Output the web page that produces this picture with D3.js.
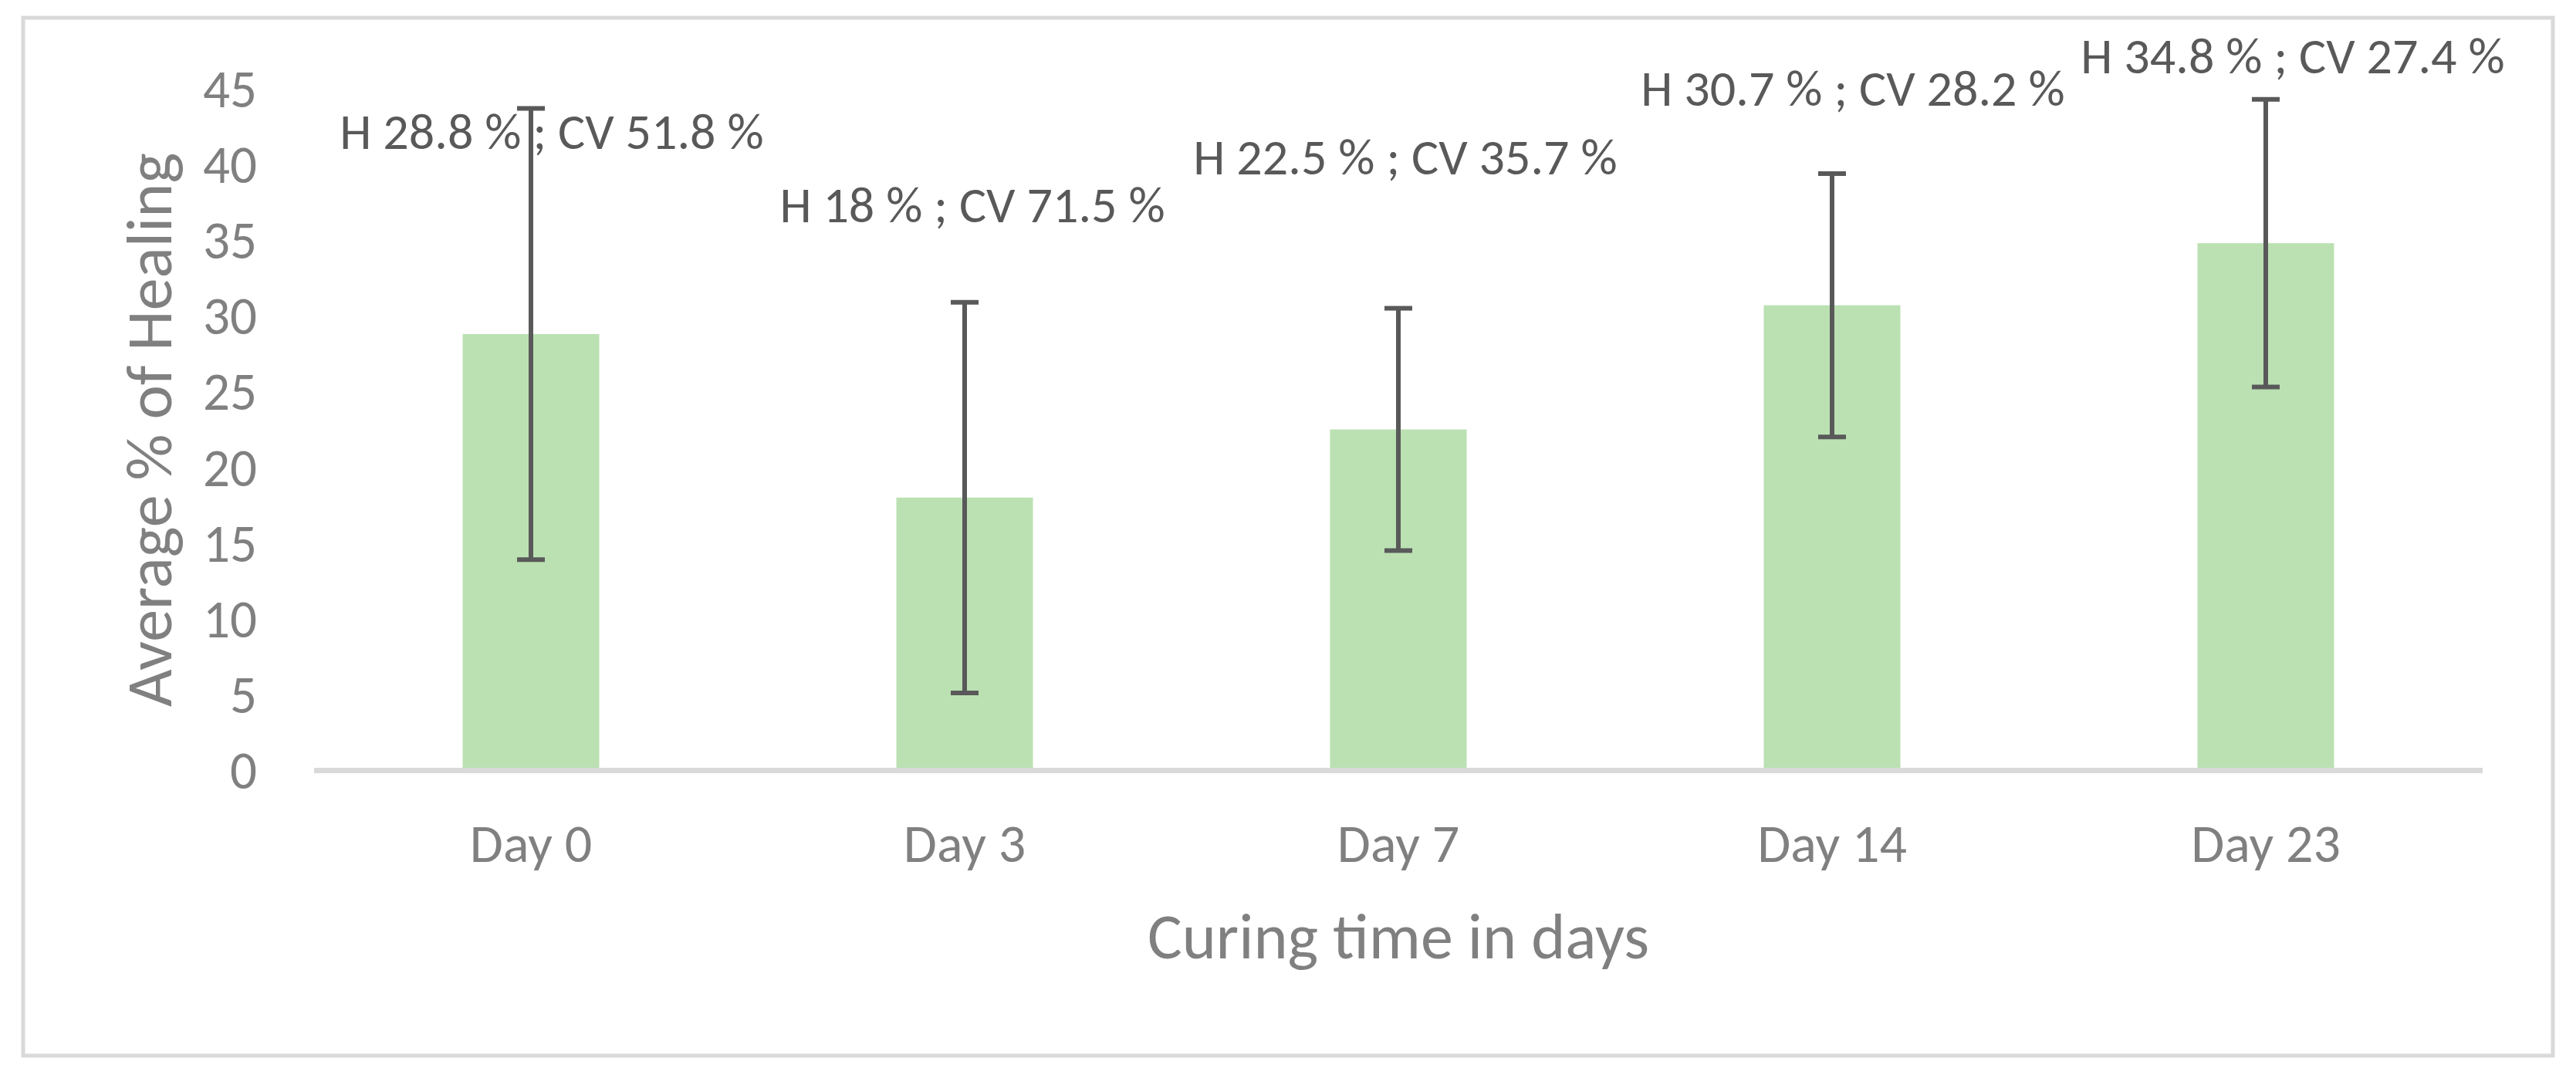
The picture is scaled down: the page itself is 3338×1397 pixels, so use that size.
<!DOCTYPE html>
<html>
<head>
<meta charset="utf-8">
<script src="https://cdn.jsdelivr.net/npm/d3@7"></script>
<style>
  body { margin: 0; background: #fff; }
  svg text { font-family: Carlito, Calibri, "Liberation Sans Narrow", "DejaVu Sans Condensed", sans-serif; }
</style>
</head>
<body>
<svg id="chart"></svg>
<script>
// data
const days = ["Day 0", "Day 3", "Day 7", "Day 14", "Day 23"];
const healing = [28.8, 18, 22.5, 30.7, 34.8];
const cv = [51.8, 71.5, 35.7, 28.2, 27.4];
const sd = [14.9, 12.9, 8.0, 8.7, 9.5];
const yTicks = [0, 5, 10, 15, 20, 25, 30, 35, 40, 45];

// where the data labels were dragged to (value on y axis, px offset from bar centre)
const labelY = [41.0, 36.2, 39.35, 43.9, 46.0];
const labelDx = [27, 10, 9, 27, 35];

const width = 3338;
const height = 1397;
const margin = { top: 115, right: 121, bottom: 399, left: 407 };

const svg = d3.select("#chart")
    .attr("width", width)
    .attr("height", height);

// chart frame
svg.append("rect")
    .attr("x", 30)
    .attr("y", 23)
    .attr("width", 3278)
    .attr("height", 1345)
    .attr("fill", "#fff")
    .attr("stroke", "#d9d9d9")
    .attr("stroke-width", 5);

const x = d3.scaleBand()
    .domain(days)
    .range([margin.left, width - margin.right])
    .paddingInner(0.685)
    .paddingOuter(0.3425);

const y = d3.scaleLinear()
    .domain([0, 45])
    .range([height - margin.bottom, margin.top]);

const data = days.map((d, i) => ({ day: d, h: healing[i], cv: cv[i], sd: sd[i] }));

// bars
svg.append("g")
    .selectAll("rect")
    .data(data)
    .enter()
    .append("rect")
    .attr("x", (d) => x(d.day))
    .attr("y", (d) => y(d.h))
    .attr("width", x.bandwidth())
    .attr("height", (d) => y(0) - y(d.h))
    .attr("fill", "#bbe1b3");

// x axis line
svg.append("line")
    .attr("x1", margin.left)
    .attr("x2", width - margin.right)
    .attr("y1", y(0) + 0.5)
    .attr("y2", y(0) + 0.5)
    .attr("stroke", "#d9d9d9")
    .attr("stroke-width", 7);

// y axis, only labels
const yAxis = svg.append("g")
    .attr("transform", `translate(${margin.left - 74},0)`)
    .call(d3.axisLeft(y).tickValues(yTicks).tickSize(0).tickPadding(0));
yAxis.select(".domain").remove();
yAxis.selectAll("text")
    .attr("font-size", 69)
    .attr("fill", "#808080")
    .attr("dy", "0.34em")
    .style("font-family", null);

// x axis, only labels
const xAxis = svg.append("g")
    .attr("transform", `translate(0,${y(0)})`)
    .call(d3.axisBottom(x).tickSize(0).tickPadding(0));
xAxis.select(".domain").remove();
xAxis.selectAll("text")
    .attr("font-size", 70)
    .attr("fill", "#808080")
    .attr("dy", 0)
    .attr("y", 119)
    .style("font-family", null);

// error bars
const err = svg.append("g")
    .attr("stroke", "#595959")
    .attr("stroke-width", 6);
data.forEach((d) => {
    const cx = x(d.day) + x.bandwidth() / 2;
    err.append("line")
        .attr("x1", cx).attr("x2", cx)
        .attr("y1", y(d.h + d.sd)).attr("y2", y(d.h - d.sd));
    [d.h + d.sd, d.h - d.sd].forEach((v) => {
        err.append("line")
            .attr("x1", cx - 18).attr("x2", cx + 18)
            .attr("y1", y(v)).attr("y2", y(v));
    });
});

// data labels
svg.append("g")
    .selectAll("text")
    .data(data)
    .enter()
    .append("text")
    .attr("x", (d, i) => x(d.day) + x.bandwidth() / 2 + labelDx[i])
    .attr("y", (d, i) => y(labelY[i]))
    .attr("text-anchor", "middle")
    .attr("font-size", 66)
    .attr("fill", "#595959")
    .text((d) => `H ${d.h} % ; CV ${d.cv} %`);

// axis titles
svg.append("text")
    .attr("x", (margin.left + width - margin.right) / 2)
    .attr("y", 1242)
    .attr("text-anchor", "middle")
    .attr("font-size", 84)
    .attr("fill", "#808080")
    .text("Curing time in days");

svg.append("text")
    .attr("transform", `translate(222,557) rotate(-90)`)
    .attr("text-anchor", "middle")
    .attr("font-size", 84)
    .attr("fill", "#808080")
    .text("Average % of Healing");
</script>
</body>
</html>
